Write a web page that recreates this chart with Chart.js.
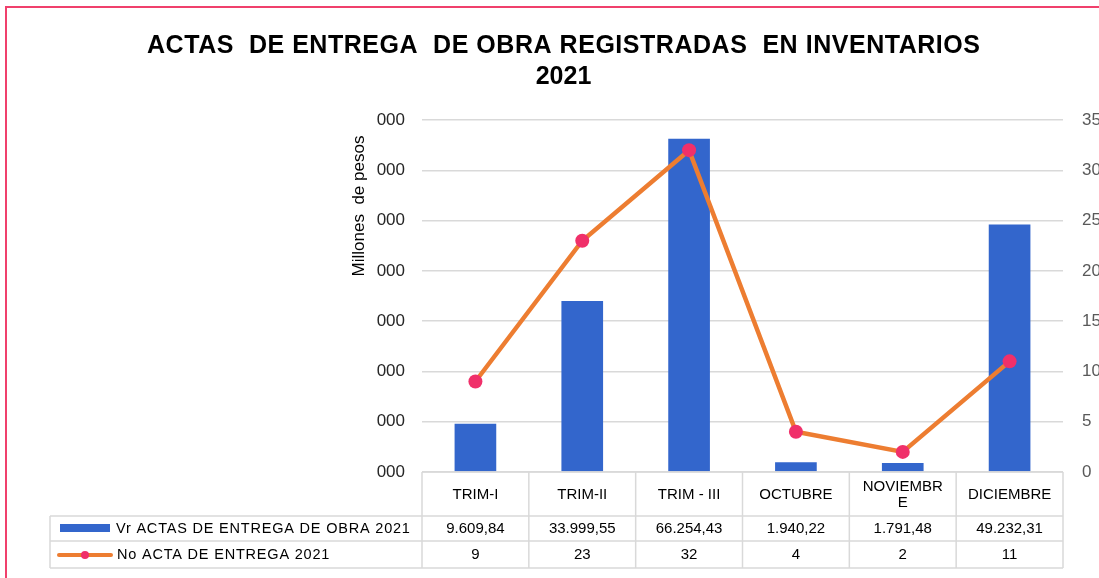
<!DOCTYPE html>
<html>
<head>
<meta charset="utf-8">
<script src="https://cdn.jsdelivr.net/npm/chart.js@4.4.1/dist/chart.umd.min.js"></script>
<style>
  html, body { margin: 0; padding: 0; background: #ffffff; }
  #wrap { width: 1099px; height: 578px; position: relative; }
</style>
</head>
<body>
<div id="wrap"><canvas id="c"></canvas></div>
<script>
// ---- data ----
const categories = ['TRIM-I', 'TRIM-II', 'TRIM - III', 'OCTUBRE', ['NOVIEMBR', 'E'], 'DICIEMBRE'];
const valores = [9609.84, 33999.55, 66254.43, 1940.22, 1791.48, 49232.31];
const actas = [9, 23, 32, 4, 2, 11];
const leftTickLabel = '000';
const seriesNames = ['Vr ACTAS DE ENTREGA DE OBRA 2021', 'No ACTA DE ENTREGA 2021'];
const titleLines = ['ACTAS  DE ENTREGA  DE OBRA REGISTRADAS  EN INVENTARIOS', '2021'];
const yTitle = 'Millones  de pesos';

const BAR = '#3366cc';
const LINE = '#ed7d31';
const DOT = '#f0306a';
const GRID = '#d9d9d9';
const FONT = '"Liberation Sans", Arial, sans-serif';

function fmtEs(v) {
  const parts = v.toFixed(2).split('.');
  const int = parts[0].replace(/\B(?=(\d{3})+(?!\d))/g, '.');
  return int + ',' + parts[1];
}

const decor = {
  id: 'decor',
  beforeDraw(chart) {
    const ctx = chart.ctx;
    ctx.save();
    // outer pink frame
    ctx.strokeStyle = '#f0406c';
    ctx.lineWidth = 2;
    ctx.strokeRect(6, 7, 1200, 700);
    // title
    ctx.fillStyle = '#000000';
    ctx.textAlign = 'left';
    ctx.textBaseline = 'alphabetic';
    ctx.font = 'bold 25px ' + FONT;
    const t = titleLines[0];
    ctx.letterSpacing = '0px';
    const w0 = ctx.measureText(t).width;
    const ls = Math.max(0, (833 - w0) / (t.length - 1));
    ctx.letterSpacing = ls.toFixed(3) + 'px';
    ctx.fillText(t, 147, 53);
    ctx.letterSpacing = '0px';
    ctx.textAlign = 'center';
    ctx.fillText(titleLines[1], 563.5, 84);
    // y axis title
    ctx.save();
    ctx.translate(364, 206);
    ctx.rotate(-Math.PI / 2);
    ctx.font = '17px ' + FONT;
    ctx.fillStyle = '#000000';
    ctx.textAlign = 'center';
    ctx.fillText(yTitle, 0, 0);
    ctx.restore();
    ctx.restore();
  },
  afterDraw(chart) {
    const ctx = chart.ctx;
    const xs = chart.scales.x;
    const area = chart.chartArea;
    const n = categories.length;
    const cw = (area.right - area.left) / n;
    const yTop = area.bottom, yH = 516, yR1 = 541, yBot = 568;
    const legL = 50;
    ctx.save();
    ctx.strokeStyle = GRID;
    ctx.lineWidth = 1.5;
    ctx.beginPath();
    ctx.moveTo(area.left, yTop); ctx.lineTo(area.right, yTop);
    ctx.moveTo(legL, yH); ctx.lineTo(area.right, yH);
    ctx.moveTo(legL, yR1); ctx.lineTo(area.right, yR1);
    ctx.moveTo(legL, yBot); ctx.lineTo(area.right, yBot);
    ctx.moveTo(legL, yH); ctx.lineTo(legL, yBot);
    for (let i = 0; i <= n; i++) {
      const x = i < n ? xs.getPixelForValue(i) - cw / 2 : xs.getPixelForValue(n - 1) + cw / 2;
      ctx.moveTo(x, yTop); ctx.lineTo(x, yBot);
    }
    ctx.stroke();

    ctx.fillStyle = '#000000';
    ctx.textAlign = 'center';
    ctx.textBaseline = 'middle';
    ctx.font = '15px ' + FONT;
    for (let i = 0; i < n; i++) {
      const cx = xs.getPixelForValue(i);
      const lab = categories[i];
      if (Array.isArray(lab)) {
        ctx.fillText(lab[0], cx, 487);
        ctx.fillText(lab[1], cx, 503);
      } else {
        ctx.fillText(lab, cx, 495);
      }
      ctx.fillText(fmtEs(valores[i]), cx, 529);
      ctx.fillText(String(actas[i]), cx, 555);
    }
    // legend keys
    ctx.fillStyle = BAR;
    ctx.fillRect(60, 524, 50, 8);
    ctx.strokeStyle = LINE;
    ctx.lineWidth = 4;
    ctx.lineCap = 'round';
    ctx.beginPath(); ctx.moveTo(59, 555); ctx.lineTo(111, 555); ctx.stroke();
    ctx.fillStyle = DOT;
    ctx.beginPath(); ctx.arc(85, 555, 4, 0, Math.PI * 2); ctx.fill();
    ctx.fillStyle = '#000000';
    ctx.textAlign = 'left';
    ctx.font = '14.5px ' + FONT;
    ctx.letterSpacing = '0.8px';
    ctx.fillText(seriesNames[0], 116, 529);
    ctx.fillText(seriesNames[1], 117, 555);
    ctx.restore();
  }
};

new Chart(document.getElementById('c'), {
  data: {
    labels: categories.map(c => Array.isArray(c) ? c.join('') : c),
    datasets: [
      {
        type: 'line',
        label: seriesNames[1],
        data: actas,
        yAxisID: 'y1',
        borderColor: LINE,
        borderWidth: 4.5,
        tension: 0,
        pointRadius: 7,
        pointHoverRadius: 7,
        pointBackgroundColor: DOT,
        pointBorderColor: DOT,
        pointBorderWidth: 0,
        order: 0
      },
      {
        type: 'bar',
        label: seriesNames[0],
        data: valores,
        yAxisID: 'y',
        backgroundColor: BAR,
        categoryPercentage: 1,
        barPercentage: 0.39,
        order: 1
      }
    ]
  },
  options: {
    responsive: true,
    maintainAspectRatio: false,
    animation: false,
    layout: { padding: { left: 0, right: 0, top: 120, bottom: 106 } },
    plugins: { legend: { display: false }, tooltip: { enabled: false }, title: { display: false } },
    scales: {
      x: { display: false, offset: true },
      y: {
        position: 'left',
        min: 0, max: 70000,
        afterFit(s) { s.width = 422; },
        ticks: {
          stepSize: 10000,
          padding: 17,
          color: '#262626',
          font: { family: FONT, size: 17 },
          callback: () => leftTickLabel
        },
        grid: { color: GRID, lineWidth: 1.5, drawTicks: false },
        border: { display: false }
      },
      y1: {
        position: 'right',
        min: 0, max: 35,
        afterFit(s) { s.width = 36; },
        ticks: {
          stepSize: 5,
          padding: 19,
          color: '#595959',
          font: { family: FONT, size: 17 }
        },
        grid: { display: false, drawTicks: false },
        border: { display: false }
      }
    }
  },
  plugins: [decor]
});
</script>
</body>
</html>
